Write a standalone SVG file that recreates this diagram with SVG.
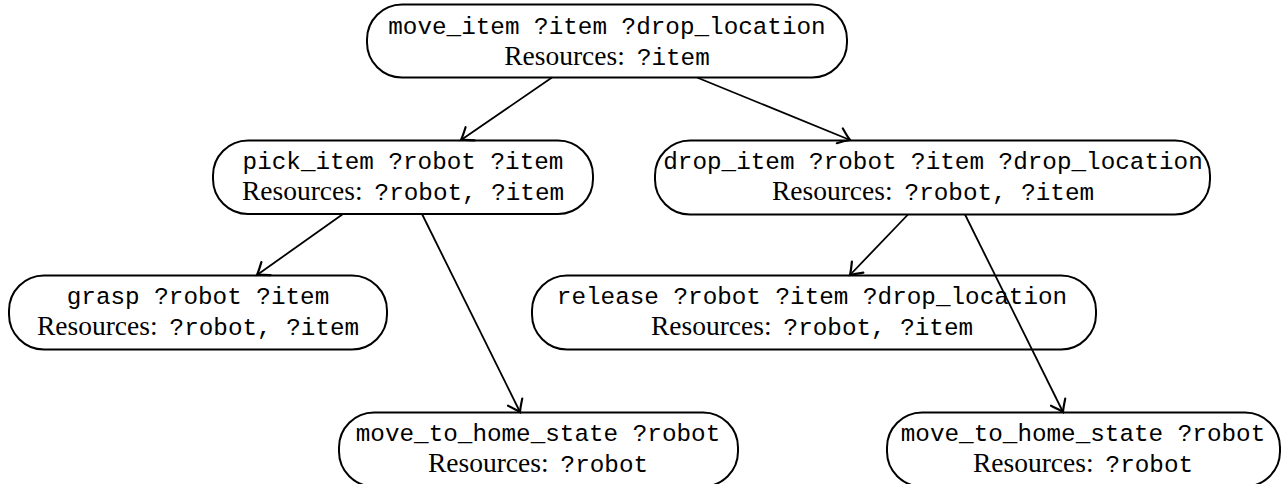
<svg xmlns="http://www.w3.org/2000/svg" width="1284" height="484" viewBox="0 0 1284 484">
  <style>
    .box { fill: #ffffff; stroke: #000000; stroke-width: 2; }
    .tt { font-family: "Liberation Mono", "DejaVu Sans Mono", monospace; font-size: 24.3px; fill: #000000; }
    .rm { font-family: "Liberation Serif", "DejaVu Serif", serif; font-size: 27.5px; fill: #000000; }
    .edge { stroke: #000000; stroke-width: 1.8; fill: none; marker-end: url(#tip); }
  </style>
  <defs>
    <marker id="tip" markerUnits="userSpaceOnUse" markerWidth="22" markerHeight="22" viewBox="-11 -9 13 18" refX="0" refY="0" orient="auto">
      <path d="M -9 -6.5 Q -3 -1.8 0 0 Q -3 1.8 -9 6.5" fill="none" stroke="#000000" stroke-width="1.8" stroke-linecap="round"/>
    </marker>
  </defs>

  <rect width="1284" height="484" fill="#ffffff"/>

  <!-- root task -->
  <g id="move_item">
    <rect class="box" x="367" y="4.5" width="480" height="73" rx="35" ry="35"/>
    <text x="607" y="33.5" text-anchor="middle" class="tt">move_item ?item ?drop_location</text>
    <text x="607" y="64.5" text-anchor="middle"><tspan class="rm">Resources:</tspan><tspan class="tt" dx="12">?item</tspan></text>
  </g>

  <!-- second level -->
  <g id="pick_item">
    <rect class="box" x="213" y="140.5" width="380" height="73.5" rx="35" ry="35"/>
    <text x="403" y="168.5" text-anchor="middle" class="tt">pick_item ?robot ?item</text>
    <text x="403" y="199.5" text-anchor="middle"><tspan class="rm">Resources:</tspan><tspan class="tt" dx="12">?robot, ?item</tspan></text>
  </g>

  <g id="drop_item">
    <rect class="box" x="655" y="140.5" width="555" height="74" rx="35" ry="35"/>
    <text x="933" y="168.5" text-anchor="middle" class="tt">drop_item ?robot ?item ?drop_location</text>
    <text x="933" y="199.5" text-anchor="middle"><tspan class="rm">Resources:</tspan><tspan class="tt" dx="12">?robot, ?item</tspan></text>
  </g>

  <!-- third level -->
  <g id="grasp">
    <rect class="box" x="9" y="275.5" width="378" height="74" rx="35" ry="35"/>
    <text x="198" y="304" text-anchor="middle" class="tt">grasp ?robot ?item</text>
    <text x="198" y="335" text-anchor="middle"><tspan class="rm">Resources:</tspan><tspan class="tt" dx="12">?robot, ?item</tspan></text>
  </g>

  <g id="release">
    <rect class="box" x="532" y="275.5" width="564" height="74" rx="35" ry="35"/>
    <text x="812" y="304" text-anchor="middle" class="tt">release ?robot ?item ?drop_location</text>
    <text x="812" y="335" text-anchor="middle"><tspan class="rm">Resources:</tspan><tspan class="tt" dx="12">?robot, ?item</tspan></text>
  </g>

  <!-- bottom level -->
  <g id="move_to_home_state_1">
    <rect class="box" x="339" y="412.5" width="399" height="74" rx="35" ry="35"/>
    <text x="538" y="441" text-anchor="middle" class="tt">move_to_home_state ?robot</text>
    <text x="538" y="472" text-anchor="middle"><tspan class="rm">Resources:</tspan><tspan class="tt" dx="12">?robot</tspan></text>
  </g>

  <g id="move_to_home_state_2">
    <rect class="box" x="887" y="412.5" width="393" height="74" rx="35" ry="35"/>
    <text x="1083" y="441" text-anchor="middle" class="tt">move_to_home_state ?robot</text>
    <text x="1083" y="472" text-anchor="middle"><tspan class="rm">Resources:</tspan><tspan class="tt" dx="12">?robot</tspan></text>
  </g>

  <!-- connectors (drawn over the nodes) -->
  <g id="connectors">
    <line class="edge" x1="552" y1="77.5" x2="461" y2="140"/>
    <line class="edge" x1="697" y1="77.5" x2="850" y2="140"/>
    <line class="edge" x1="343" y1="214" x2="257" y2="275"/>
    <line class="edge" x1="422" y1="214" x2="520" y2="412"/>
    <line class="edge" x1="908" y1="214.5" x2="850" y2="275"/>
    <line class="edge" x1="965" y1="214.5" x2="1063" y2="412"/>
  </g>
</svg>
